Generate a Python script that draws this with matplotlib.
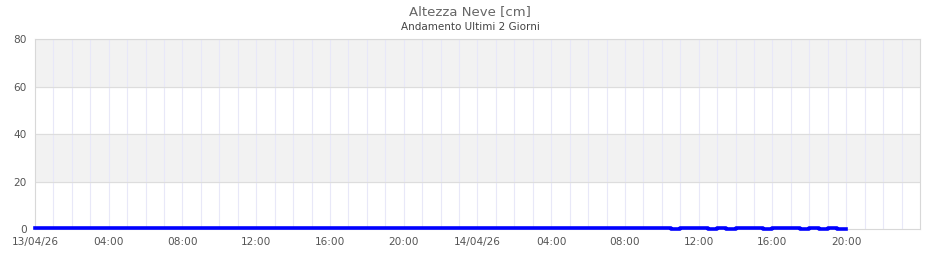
import matplotlib.pyplot as plt

# snow depth [cm], one reading every 30 minutes from 13/04/26 00:00
hours = [i * 0.5 for i in range(89)]
neve = [0.6, 0.5, 0.6, 0.6, 0.4, 0.6, 0.6, 0.5, 0.6, 0.4, 0.6, 0.6,
        0.5, 0.6, 0.6, 0.4, 0.6, 0.6, 0.6, 0.5, 0.6, 0.6, 0.6, 0.4,
        0.6, 0.6, 0.5, 0.6, 0.6, 0.6, 0.6, 0.5, 0.6, 0.6, 0.6, 0.6,
        0.5, 0.6, 0.6, 0.6, 0.6, 0.4, 0.6, 0.6, 0.6, 0.5, 0.6, 0.6,
        0.6, 0.6, 0.5, 0.6, 0.6, 0.4, 0.6, 0.6, 0.5, 0.6, 0.6, 0.5,
        0.6, 0.4, 0.6, 0.6, 0.5, 0.6, 0.3, 0.6, 0.5, 0.2, 0.6, 0.3,
        0.5, 0.2, 0.4, 0.1, 0.3, 0.6, 0.6, 0.2, 0.5, 0.3, 0.4, 0.1,
        0.3, 0.2, 0.4, 0.1, 0.1]

tick_pos = [0, 4, 8, 12, 16, 20, 24, 28, 32, 36, 40, 44]
tick_lab = ['13/04/26', '04:00', '08:00', '12:00', '16:00', '20:00',
            '14/04/26', '04:00', '08:00', '12:00', '16:00', '20:00']
yticks = [0, 20, 40, 60, 80]

fig = plt.figure(figsize=(9.4, 2.6), dpi=100)
ax = fig.add_axes([0.0372, 0.1192, 0.9415, 0.7308])

# alternating bands
ax.axhspan(20, 40, color='#f2f2f2', zorder=0)
ax.axhspan(60, 80, color='#f2f2f2', zorder=0)
for h in range(1, 48):
    ax.axvline(h, color='#e8e8f8', lw=0.8, zorder=1)
for v in yticks[1:]:
    ax.axhline(v, color='#dddddd', lw=0.8, zorder=1)

ax.plot(hours, neve, color='#0000ff', lw=2.6, drawstyle='steps-post',
        zorder=3, clip_on=False)

ax.set_xlim(0, 48)
ax.set_ylim(0, 80)
ax.set_xticks(tick_pos)
ax.set_xticklabels(tick_lab)
ax.set_yticks(yticks)
ax.tick_params(length=0, labelsize=7.6, colors='#555555', pad=6)
for s in ax.spines.values():
    s.set_color('#d8d8d8')

fig.text(0.5, 0.955, 'Altezza Neve [cm]', ha='center', va='center',
         fontsize=9.5, color='#666666')
fig.text(0.5, 0.895, 'Andamento Ultimi 2 Giorni', ha='center', va='center',
         fontsize=7.5, color='#444444')

fig.savefig('out.png')
